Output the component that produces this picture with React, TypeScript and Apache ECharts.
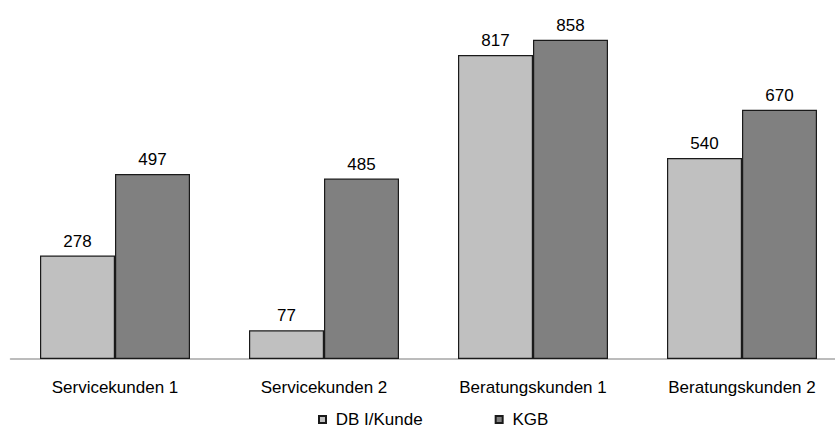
import React, { useEffect, useRef } from "react";
import * as echarts from "echarts";

const categories = ["Servicekunden 1", "Servicekunden 2", "Beratungskunden 1", "Beratungskunden 2"];
const dbProKunde = [278, 77, 817, 540];
const kgb = [497, 485, 858, 670];
const seriesNames = ["DB I/Kunde", "KGB"];

const FONT = "'Liberation Sans', Arial, sans-serif";

export default function App() {
  const ref = useRef<HTMLDivElement>(null);

  useEffect(() => {
    if (!ref.current) return;
    const chart = echarts.init(ref.current, undefined, { renderer: "svg" });
    const label = {
      show: true,
      position: "top",
      distance: 6,
      color: "#000",
      fontSize: 17,
      fontFamily: FONT,
    };
    chart.setOption({
      animation: false,
      backgroundColor: "#fff",
      // plot area runs slightly past the visible right edge
      grid: { left: 10.5, top: 0, width: 836, height: 359 },
      legend: {
        left: 313,
        top: 406,
        itemWidth: 7,
        itemHeight: 7,
        itemGap: 72,
        icon: "rect",
        formatter: (name: string) => " " + name,
        textStyle: { color: "#000", fontSize: 17, fontFamily: FONT },
        data: seriesNames,
      },
      xAxis: {
        type: "category",
        data: categories,
        axisLine: { lineStyle: { color: "#a6a6a6", width: 1.5 } },
        axisTick: { show: false },
        axisLabel: { color: "#000", fontSize: 17, fontFamily: FONT, margin: 20, interval: 0 },
      },
      yAxis: {
        type: "value",
        min: 0,
        max: 965,
        show: false,
        splitLine: { show: false },
      },
      series: [
        {
          name: seriesNames[0],
          type: "bar",
          data: dbProKunde,
          barWidth: 75,
          barGap: "0%",
          itemStyle: { color: "#c0c0c0", borderColor: "#1a1a1a", borderWidth: 1.2 },
          label,
        },
        {
          name: seriesNames[1],
          type: "bar",
          data: kgb,
          barWidth: 75,
          barGap: "0%",
          itemStyle: { color: "#808080", borderColor: "#1a1a1a", borderWidth: 1.2 },
          label,
        },
      ],
    });
    return () => chart.dispose();
  }, []);

  return (
    <div
      style={{
        position: "fixed",
        left: 0,
        top: 0,
        width: 835,
        height: 428,
        overflow: "hidden",
        background: "#fff",
      }}
    >
      <div ref={ref} style={{ width: 860, height: 428 }} />
    </div>
  );
}
